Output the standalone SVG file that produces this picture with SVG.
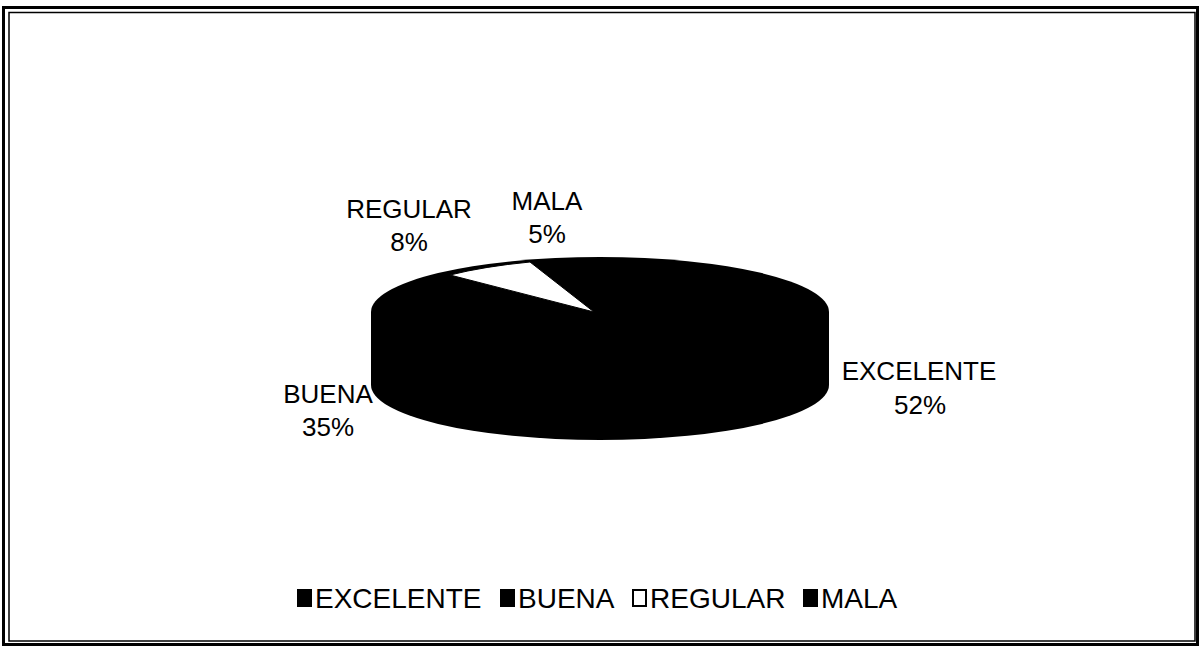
<svg xmlns="http://www.w3.org/2000/svg" width="1200" height="648" viewBox="0 0 1200 648">
<style>
text{font-family:"Liberation Sans",Arial,sans-serif;font-size:26px;fill:#000}
.lab{text-anchor:middle}
.leg{font-size:28px}
.frame{fill:none;stroke:#000}
</style>
<rect width="1200" height="648" fill="#fff"/>
<rect class="frame" x="3.5" y="7.5" width="1194" height="637" stroke-width="3"/>
<rect class="frame" x="9" y="12.5" width="1186" height="628.5" stroke-width="1.5"/>
<g id="pie">
<path d="M371,312 L371,385 A229,55 0 0 0 829,385 L829,312 Z" fill="#000"/>
<ellipse cx="600" cy="312" rx="229" ry="55" fill="#000"/>
<path d="M594,312 L450,275 A229,55 0 0 1 530,262 Z" fill="#fff" stroke="#000" stroke-width="1"/>
</g>
<g id="labels">
<text class="lab" x="409" y="218">REGULAR</text>
<text class="lab" x="409" y="251">8%</text>
<text class="lab" x="547" y="210">MALA</text>
<text class="lab" x="547" y="243">5%</text>
<text class="lab" x="919" y="380">EXCELENTE</text>
<text class="lab" x="920" y="414">52%</text>
<text class="lab" x="328" y="403">BUENA</text>
<text class="lab" x="328" y="436">35%</text>
</g>
<g id="legend">
<rect x="297" y="589" width="15" height="18" fill="#000"/>
<text class="leg" x="315" y="608">EXCELENTE</text>
<rect x="500" y="589" width="15" height="18" fill="#000"/>
<text class="leg" x="518" y="608">BUENA</text>
<rect x="633" y="590" width="13" height="16" fill="#fff" stroke="#000" stroke-width="2"/>
<text class="leg" x="650" y="608">REGULAR</text>
<rect x="803" y="589" width="15" height="18" fill="#000"/>
<text class="leg" x="821" y="608">MALA</text>
</g>
</svg>
